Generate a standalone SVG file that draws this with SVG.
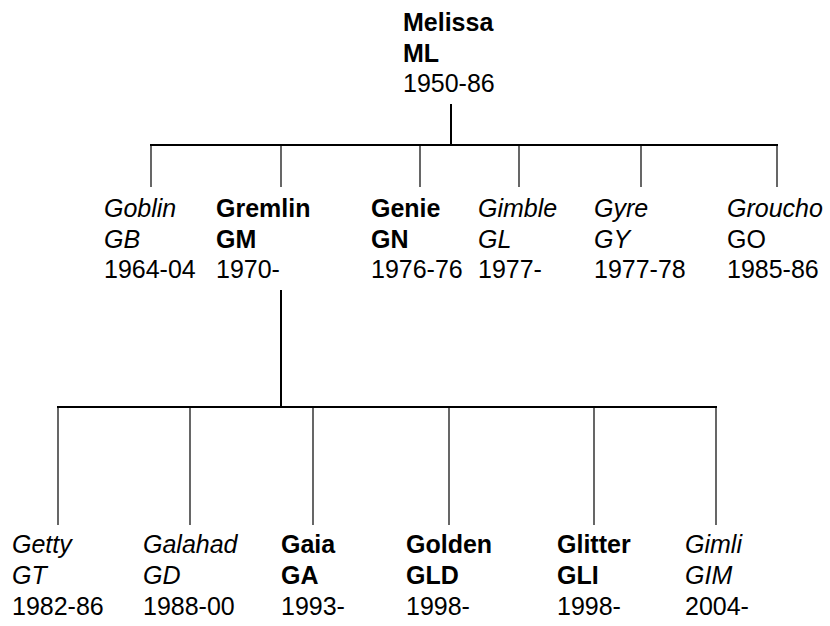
<svg xmlns="http://www.w3.org/2000/svg" width="830" height="626" viewBox="0 0 830 626">
<style>
text{font-family:"Liberation Sans",Arial,sans-serif;font-size:25px;fill:#000}
.b{font-weight:bold}
.i{font-style:italic}
.thick{stroke:#000;stroke-width:2;fill:none}
.thin{stroke:#000;stroke-width:1.2;fill:none}
</style>
<rect width="830" height="626" fill="#fff"/>
<g id="connectors">
<line class="thick" x1="451" y1="104" x2="451" y2="145"/>
<line class="thick" x1="150" y1="145" x2="778" y2="145"/>
<line class="thin" x1="151" y1="145" x2="151" y2="187"/>
<line class="thin" x1="281" y1="145" x2="281" y2="187"/>
<line class="thin" x1="420" y1="145" x2="420" y2="187"/>
<line class="thin" x1="519" y1="145" x2="519" y2="187"/>
<line class="thin" x1="641" y1="145" x2="641" y2="187"/>
<line class="thin" x1="777" y1="145" x2="777" y2="187"/>
<line class="thick" x1="281" y1="290" x2="281" y2="407"/>
<line class="thick" x1="57" y1="407" x2="717" y2="407"/>
<line class="thin" x1="58" y1="407" x2="58" y2="525"/>
<line class="thin" x1="190" y1="407" x2="190" y2="525"/>
<line class="thin" x1="313" y1="407" x2="313" y2="525"/>
<line class="thin" x1="449" y1="407" x2="449" y2="525"/>
<line class="thin" x1="594" y1="407" x2="594" y2="525"/>
<line class="thin" x1="716" y1="407" x2="716" y2="525"/>
</g>
<g id="ML"><text x="403" y="31" class="b">Melissa</text><text x="403" y="62" class="b">ML</text><text x="403" y="92">1950-86</text></g>
<g id="GB"><text x="104" y="217" class="i">Goblin</text><text x="104" y="248" class="i">GB</text><text x="104" y="278">1964-04</text></g>
<g id="GM"><text x="216" y="217" class="b">Gremlin</text><text x="216" y="248" class="b">GM</text><text x="216" y="278">1970-</text></g>
<g id="GN"><text x="371" y="217" class="b">Genie</text><text x="371" y="248" class="b">GN</text><text x="371" y="278">1976-76</text></g>
<g id="GL"><text x="478" y="217" class="i">Gimble</text><text x="478" y="248" class="i">GL</text><text x="478" y="278">1977-</text></g>
<g id="GY"><text x="594" y="217" class="i">Gyre</text><text x="594" y="248" class="i">GY</text><text x="594" y="278">1977-78</text></g>
<g id="GO"><text x="727" y="217" class="i">Groucho</text><text x="727" y="248">GO</text><text x="727" y="278">1985-86</text></g>
<g id="GT"><text x="12" y="553" class="i">Getty</text><text x="12" y="584" class="i">GT</text><text x="12" y="615">1982-86</text></g>
<g id="GD"><text x="143" y="553" class="i">Galahad</text><text x="143" y="584" class="i">GD</text><text x="143" y="615">1988-00</text></g>
<g id="GA"><text x="281" y="553" class="b">Gaia</text><text x="281" y="584" class="b">GA</text><text x="281" y="615">1993-</text></g>
<g id="GLD"><text x="406" y="553" class="b">Golden</text><text x="406" y="584" class="b">GLD</text><text x="406" y="615">1998-</text></g>
<g id="GLI"><text x="557" y="553" class="b">Glitter</text><text x="557" y="584" class="b">GLI</text><text x="557" y="615">1998-</text></g>
<g id="GIM"><text x="685" y="553" class="i">Gimli</text><text x="685" y="584" class="i">GIM</text><text x="685" y="615">2004-</text></g>
</svg>
